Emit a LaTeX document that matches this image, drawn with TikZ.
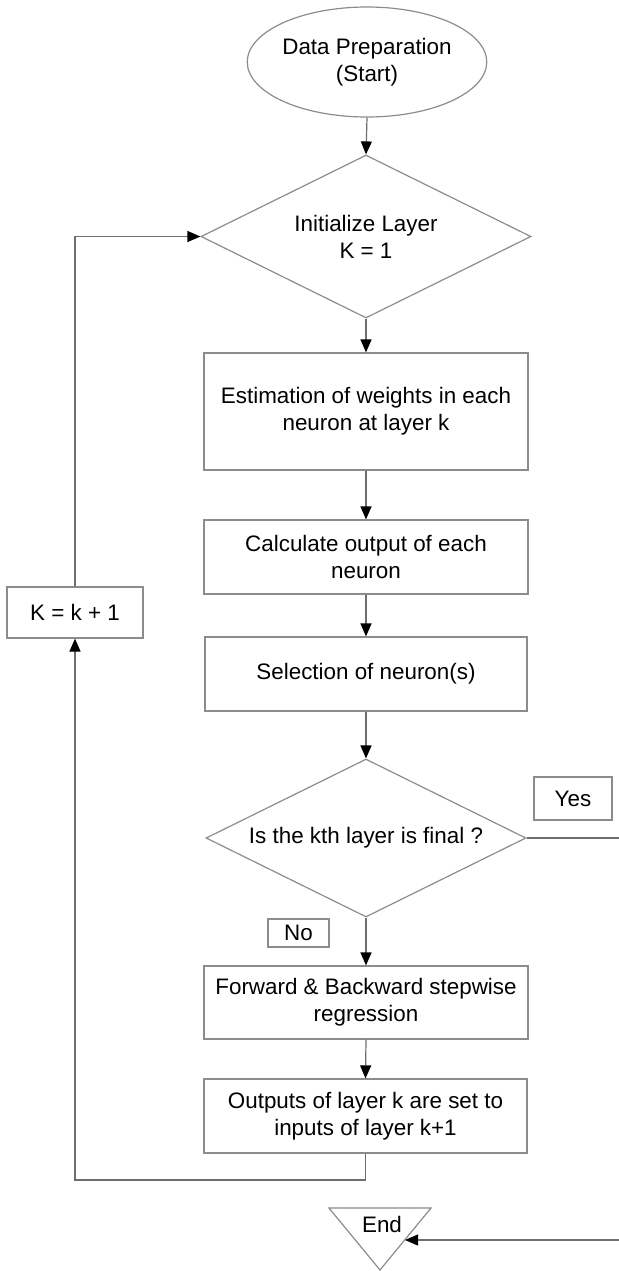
\documentclass[tikz,border=0pt]{standalone}
\usepackage{fontspec}
\setmainfont{Liberation Sans}
\usetikzlibrary{shapes.geometric,arrows.meta}
\definecolor{edgegray}{RGB}{140,140,140}
\definecolor{linegray}{RGB}{110,110,110}
\tikzset{
  every node/.style={font=\fontsize{11.2}{13.5}\selectfont, text=black},
  procbox/.style={draw=edgegray, line width=0.6pt, rectangle, inner sep=0pt, align=center},
  decbox/.style={draw=edgegray, line width=0.6pt, diamond, inner sep=0pt},
  arr/.style={draw=linegray, line width=0.6pt, -{Triangle[width=5.5pt,length=6.5pt,color=black]}},
  plain/.style={draw=edgegray, line width=0.6pt}
}
\begin{document}
\begin{tikzpicture}[x=0.5pt,y=-0.5pt]
\useasboundingbox (0,0) rectangle (619,1271);
\clip (0,0) rectangle (619,1271);

\node[draw=edgegray, line width=0.6pt, ellipse, minimum width=108pt, minimum height=55pt, inner sep=0pt, align=center] (start) at (367,62) {Data Preparation\\(Start)};

\node[decbox, minimum width=165pt, minimum height=81.5pt, label={[align=center]center:Initialize Layer\\K = 1}] (d1) at (366,236.5) {};

\node[procbox, minimum width=162pt, minimum height=58.5pt] (b1) at (366,411.5) {Estimation of weights in each\\neuron at layer k};
\node[procbox, minimum width=162pt, minimum height=37pt] (b2) at (366,557) {Calculate output of each\\neuron};
\node[procbox, minimum width=161pt, minimum height=37pt] (b3) at (366,674) {Selection of neuron(s)};

\node[decbox, minimum width=160pt, minimum height=79pt, label={center:Is the kth layer is final ?}] (d2) at (366,838) {};

\node[procbox, minimum width=39pt, minimum height=21.5pt] (yes) at (573,798.5) {Yes};
\node[procbox, minimum width=30.5pt, minimum height=14pt] (no) at (298.5,933) {No};

\node[procbox, minimum width=162pt, minimum height=36.5pt] (b4) at (366,1002.5) {Forward \& Backward stepwise\\regression};
\node[procbox, minimum width=161.5pt, minimum height=37pt] (b5) at (365.5,1116) {Outputs of layer k are set to\\inputs of layer k+1};

\node[procbox, minimum width=68pt, minimum height=25.5pt] (kb) at (75,612.5) {K = k + 1};

% End triangle
\coordinate (tl) at (329,1208);
\coordinate (tr) at (431,1208);
\coordinate (tb) at (380,1270);
\draw[plain] (tl) -- (tr) -- (tb) -- cycle;
\node (endtxt) at (382,1224) {End};
\coordinate (endin) at (405,1240);

% connectors
\draw[arr] (start.south) -- (d1.north);
\draw[arr] (d1.south) -- (b1.north);
\draw[arr] (b1.south) -- (b2.north);
\draw[arr] (b2.south) -- (b3.north);
\draw[arr] (b3.south) -- (d2.north);
\draw[arr] (d2.south) -- (b4.north);
\draw[arr] (b4.south) -- (b5.north);

\coordinate (lb) at (75,1180);
\draw[arr] (b5.south) |- (lb) -- (kb.south);
\draw[arr] (kb.north) |- (d1.west);

\coordinate (rc1) at (630,838);
\coordinate (rc2) at (630,1240);
\draw[arr] (d2.east) -- (rc1) -- (rc2) -- (endin);
\end{tikzpicture}
\end{document}
